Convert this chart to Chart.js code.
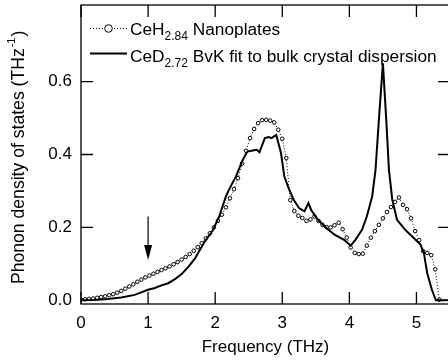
<!DOCTYPE html>
<html>
<head>
<meta charset="utf-8">
<script src="https://cdn.jsdelivr.net/npm/chart.js@4.4.0/dist/chart.umd.min.js"></script>
<style>
  body { margin: 0; background: #fff; overflow: hidden; }
</style>
</head>
<body>
<canvas id="grafDos" width="455" height="363"></canvas>
<script>
// CeH2.84 nanoplates (circles, dotted)
const freqNano = [
  0.00, 0.06, 0.12, 0.18, 0.24, 0.30, 0.36, 0.42, 0.48, 0.54,
  0.60, 0.66, 0.72, 0.78, 0.84, 0.90, 0.96, 1.02, 1.08, 1.14,
  1.20, 1.26, 1.32, 1.38, 1.44, 1.50, 1.56, 1.62, 1.68, 1.74,
  1.80, 1.86, 1.92, 1.98, 2.04, 2.10, 2.16, 2.22, 2.28, 2.34,
  2.40, 2.46, 2.52, 2.58, 2.64, 2.70, 2.76, 2.82, 2.88, 2.94,
  3.00, 3.06, 3.12, 3.18, 3.24, 3.30, 3.36, 3.42, 3.48, 3.54,
  3.60, 3.66, 3.72, 3.78, 3.84, 3.90, 3.96, 4.02, 4.08, 4.14,
  4.20, 4.26, 4.32, 4.38, 4.44, 4.50, 4.56, 4.62, 4.68, 4.74,
  4.80, 4.86, 4.92, 4.98, 5.04, 5.10, 5.16, 5.22, 5.28, 5.34
]
const dosNano = [
  0.002, 0.003, 0.004, 0.005, 0.007, 0.009, 0.011, 0.014, 0.017, 0.021,
  0.026, 0.032, 0.038, 0.044, 0.051, 0.057, 0.063, 0.068, 0.073, 0.078,
  0.083, 0.088, 0.093, 0.099, 0.105, 0.112, 0.119, 0.127, 0.136, 0.146,
  0.157, 0.170, 0.184, 0.200, 0.218, 0.235, 0.255, 0.280, 0.305, 0.335,
  0.375, 0.410, 0.445, 0.470, 0.486, 0.494, 0.495, 0.493, 0.488, 0.468,
  0.443, 0.390, 0.275, 0.245, 0.232, 0.226, 0.218, 0.222, 0.230, 0.218,
  0.207, 0.201, 0.200, 0.206, 0.213, 0.195, 0.172, 0.145, 0.130, 0.127,
  0.128, 0.150, 0.172, 0.190, 0.207, 0.225, 0.242, 0.256, 0.270, 0.282,
  0.262, 0.250, 0.225, 0.190, 0.165, 0.135, 0.130, 0.124, 0.085, 0.002
]

// CeD2.72 BvK fit (solid line)
const freqBvk = [
  0.00, 0.20, 0.40, 0.60, 0.80, 1.00, 1.10, 1.20, 1.30, 1.40,
  1.50, 1.60, 1.70, 1.76, 1.84, 1.96, 2.06, 2.16, 2.21, 2.31,
  2.41, 2.48, 2.56, 2.62, 2.66, 2.74, 2.80, 2.84, 2.91, 2.98,
  3.03, 3.10, 3.17, 3.25, 3.33, 3.39, 3.43, 3.53, 3.66, 3.78,
  3.92, 4.02, 4.09, 4.19, 4.26, 4.34, 4.39, 4.44, 4.50, 4.55,
  4.59, 4.64, 4.71, 4.83, 4.96, 5.06, 5.11, 5.16, 5.23, 5.29,
  5.50
]
const dosBvk = [
  0.000, 0.001, 0.004, 0.008, 0.015, 0.029, 0.034, 0.041, 0.047, 0.058,
  0.072, 0.092, 0.115, 0.135, 0.160, 0.190, 0.230, 0.285, 0.305, 0.340,
  0.385, 0.408, 0.411, 0.413, 0.406, 0.445, 0.448, 0.445, 0.454, 0.405,
  0.340, 0.305, 0.276, 0.253, 0.244, 0.267, 0.248, 0.221, 0.198, 0.180,
  0.166, 0.150, 0.166, 0.194, 0.230, 0.285, 0.358, 0.495, 0.650, 0.495,
  0.358, 0.276, 0.221, 0.194, 0.171, 0.153, 0.130, 0.075, 0.029, 0.000,
  0.000
]

const xTicks = [0, 1, 2, 3, 4, 5]
const yTicks = [0.0, 0.2, 0.4, 0.6]

const fonte = '"Liberation Sans", Arial, Helvetica, sans-serif'

// ticks para dentro, moldura, seta e legenda
const extras = {
  id: 'extras',
  afterDraw(chart) {
    const ctx = chart.ctx
    const a = chart.chartArea
    const sx = chart.scales.x
    const sy = chart.scales.y
    ctx.save()
    ctx.strokeStyle = '#000'
    ctx.fillStyle = '#000'
    ctx.lineWidth = 1.3
    ctx.strokeRect(a.left, a.top, a.right - a.left, a.bottom - a.top)
    ctx.beginPath()
    xTicks.forEach(v => {
      const px = sx.getPixelForValue(v)
      ctx.moveTo(px, a.bottom); ctx.lineTo(px, a.bottom - 12)
      ctx.moveTo(px, a.top); ctx.lineTo(px, a.top + 12)
    })
    yTicks.forEach(v => {
      const py = sy.getPixelForValue(v)
      ctx.moveTo(a.left, py); ctx.lineTo(a.left + 12, py)
      ctx.moveTo(a.right, py); ctx.lineTo(a.right - 12, py)
    })
    ctx.stroke()

    // seta em 1 THz
    const ax = sx.getPixelForValue(1)
    const top = sy.getPixelForValue(0.23)
    const tip = sy.getPixelForValue(0.111)
    ctx.lineWidth = 1.2
    ctx.beginPath()
    ctx.moveTo(ax, top); ctx.lineTo(ax, tip - 12)
    ctx.stroke()
    ctx.beginPath()
    ctx.moveTo(ax - 4, tip - 15)
    ctx.lineTo(ax + 4, tip - 15)
    ctx.lineTo(ax, tip)
    ctx.closePath()
    ctx.fill()

    // legenda
    ctx.lineWidth = 1
    ctx.setLineDash([1, 2])
    ctx.beginPath(); ctx.moveTo(90, 28.5); ctx.lineTo(127, 28.5); ctx.stroke()
    ctx.setLineDash([])
    ctx.fillStyle = '#fff'
    ctx.beginPath(); ctx.arc(108.5, 28.5, 3.8, 0, Math.PI * 2); ctx.fill(); ctx.stroke()
    ctx.lineWidth = 2
    ctx.beginPath(); ctx.moveTo(90, 53.5); ctx.lineTo(127, 53.5); ctx.stroke()

    ctx.fillStyle = '#000'
    ctx.textBaseline = 'alphabetic'
    ctx.textAlign = 'left'
    const escreve = (parts, x, y) => {
      parts.forEach(p => {
        ctx.font = p.sub ? '12px ' + fonte : '17.3px ' + fonte
        ctx.fillText(p.t, x, y + (p.sub ? 5 : 0))
        x += ctx.measureText(p.t).width
      })
    }
    escreve([{t: 'CeH'}, {t: '2.84', sub: true}, {t: ' Nanoplates'}], 130, 35)
    escreve([{t: 'CeD'}, {t: '2.72', sub: true}, {t: ' BvK fit to bulk crystal dispersion'}], 130, 61.5)

    // titulo do eixo y
    ctx.translate(19, 284)
    ctx.rotate(-Math.PI / 2)
    ctx.textBaseline = 'middle'
    let px = 0
    ctx.font = '17.6px ' + fonte
    ctx.fillText('Phonon density of states (THz', px, 0)
    px += ctx.measureText('Phonon density of states (THz').width
    ctx.font = '11px ' + fonte
    ctx.fillText('-1', px + 1, -7)
    px += ctx.measureText('-1').width + 2
    ctx.font = '17.6px ' + fonte
    ctx.fillText(')', px, 0)
    ctx.restore()
  }
}

new Chart(document.getElementById('grafDos'), {
  type: 'scatter',
  data: {
    datasets: [
      {
        label: 'CeD2.72 BvK fit to bulk crystal dispersion',
        data: freqBvk.map((f, i) => ({x: f, y: dosBvk[i]})),
        showLine: true,
        borderColor: '#000',
        borderWidth: 2,
        pointRadius: 0,
        tension: 0
      },
      {
        label: 'CeH2.84 Nanoplates',
        data: freqNano.map((f, i) => ({x: f, y: dosNano[i]})),
        showLine: true,
        borderColor: '#000',
        borderWidth: 1,
        borderDash: [1, 2],
        pointRadius: 1.8,
        pointBorderWidth: 1,
        pointBackgroundColor: '#fff',
        pointBorderColor: '#000',
        tension: 0
      }
    ]
  },
  options: {
    responsive: false,
    animation: false,
    layout: { padding: { top: 5, right: 3, left: 0, bottom: 0 } },
    plugins: {
      legend: { display: false },
      tooltip: { enabled: false }
    },
    scales: {
      x: {
        type: 'linear',
        min: 0,
        max: 5.5,
        grid: { display: false, drawTicks: false },
        border: { display: false },
        afterBuildTicks: s => { s.ticks = xTicks.map(v => ({value: v})) },
        afterFit: s => { s.height = 59; s.paddingLeft = 0; s.paddingRight = 0 },
        ticks: {
          color: '#000',
          padding: 9,
          maxRotation: 0,
          font: { family: fonte, size: 17 },
          callback: v => String(v)
        },
        title: {
          display: true,
          text: 'Frequency (THz)',
          color: '#000',
          font: { family: fonte, size: 17 },
          padding: { top: 2, bottom: 5 }
        }
      },
      y: {
        min: -0.01,
        max: 0.81,
        grid: { display: false, drawTicks: false },
        border: { display: false },
        afterBuildTicks: s => { s.ticks = yTicks.map(v => ({value: v})) },
        afterFit: s => { s.width = 81; s.paddingTop = 0; s.paddingBottom = 0 },
        ticks: {
          color: '#000',
          padding: 9,
          font: { family: fonte, size: 17 },
          callback: v => v.toFixed(1)
        }
      }
    }
  },
  plugins: [extras]
})
</script>
</body>
</html>
